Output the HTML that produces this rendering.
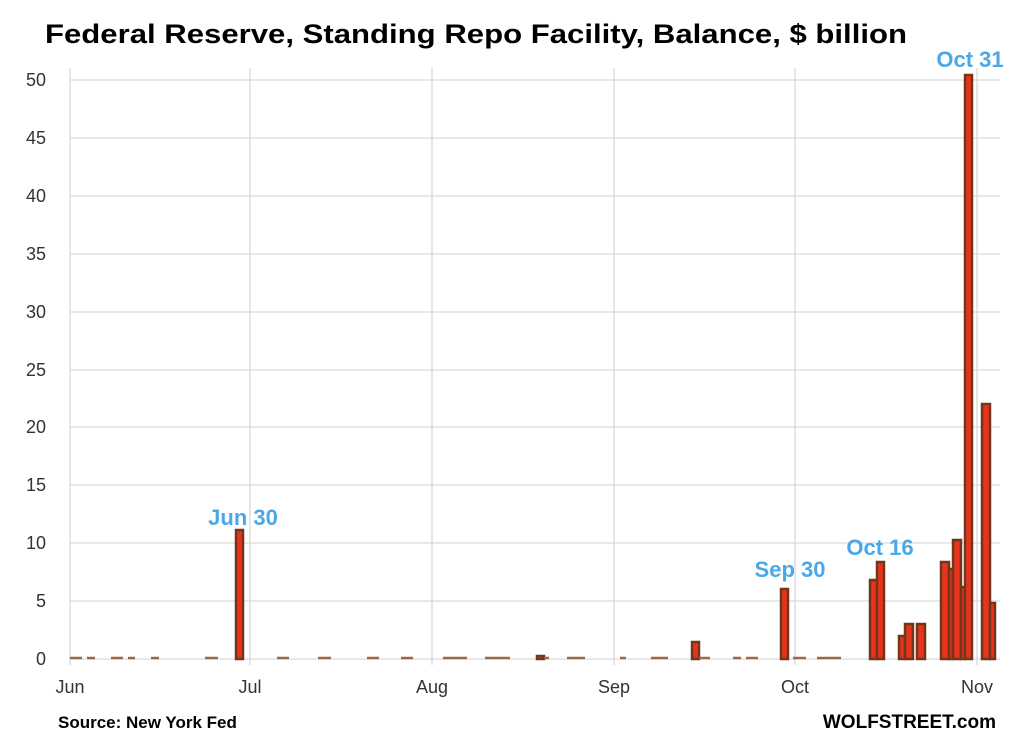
<!DOCTYPE html>
<html><head><style>body{margin:0;background:#fff}svg{display:block}</style></head><body>
<svg width="1024" height="749" xmlns="http://www.w3.org/2000/svg" font-family="Liberation Sans, sans-serif">
<rect width="1024" height="749" fill="#fff"/>
<text x="45" y="43" font-size="27" font-weight="bold" textLength="862" lengthAdjust="spacingAndGlyphs">Federal Reserve, Standing Repo Facility, Balance, $ billion</text>
<g stroke="#d9d9d9" stroke-width="1.3">
<line x1="70" x2="1000" y1="80" y2="80"/><line x1="70" x2="1000" y1="138" y2="138"/><line x1="70" x2="1000" y1="196" y2="196"/><line x1="70" x2="1000" y1="254" y2="254"/><line x1="70" x2="1000" y1="312" y2="312"/><line x1="70" x2="1000" y1="370" y2="370"/><line x1="70" x2="1000" y1="427" y2="427"/><line x1="70" x2="1000" y1="485" y2="485"/><line x1="70" x2="1000" y1="543" y2="543"/><line x1="70" x2="1000" y1="601" y2="601"/><line x1="70" x2="1000" y1="659" y2="659"/>
<line x1="70" x2="70" y1="68" y2="665"/><line x1="250" x2="250" y1="68" y2="665"/><line x1="432" x2="432" y1="68" y2="665"/><line x1="614" x2="614" y1="68" y2="665"/><line x1="795" x2="795" y1="68" y2="665"/><line x1="977" x2="977" y1="68" y2="665"/>
</g>
<g font-size="18" fill="#333" text-anchor="end">
<text x="46" y="86">50</text><text x="46" y="144">45</text><text x="46" y="202">40</text><text x="46" y="260">35</text><text x="46" y="318">30</text><text x="46" y="376">25</text><text x="46" y="433">20</text><text x="46" y="491">15</text><text x="46" y="549">10</text><text x="46" y="607">5</text><text x="46" y="665">0</text>
</g>
<g font-size="18" fill="#333" text-anchor="middle">
<text x="70" y="693">Jun</text><text x="250" y="693">Jul</text><text x="432" y="693">Aug</text><text x="614" y="693">Sep</text><text x="795" y="693">Oct</text><text x="977" y="693">Nov</text>
</g>
<g fill="#e8341c" stroke="#73361a" stroke-width="2.5">
<rect x="236" y="530" width="7" height="129"/>
<rect x="692" y="642" width="7" height="17"/>
<rect x="781" y="589" width="7" height="70"/>
<rect x="870" y="580" width="7" height="79"/>
<rect x="877" y="562" width="7" height="97"/>
<rect x="899" y="636" width="6" height="23"/>
<rect x="905" y="624" width="8" height="35"/>
<rect x="917" y="624" width="8" height="35"/>
<rect x="941" y="562" width="8" height="97"/>
<rect x="949" y="569" width="4" height="90"/>
<rect x="953" y="540" width="8" height="119"/>
<rect x="961" y="587" width="4" height="72"/>
<rect x="965" y="75" width="7" height="584"/>
<rect x="982" y="404" width="8" height="255"/>
<rect x="990" y="603" width="5" height="56"/>
<rect x="537" y="656" width="7" height="3"/>
</g>
<g stroke="#9a6a48" stroke-width="2.5">
<line x1="70" x2="82" y1="658" y2="658"/><line x1="87" x2="95" y1="658" y2="658"/><line x1="111" x2="123" y1="658" y2="658"/><line x1="128" x2="135" y1="658" y2="658"/><line x1="151" x2="159" y1="658" y2="658"/><line x1="205" x2="218" y1="658" y2="658"/><line x1="277" x2="289" y1="658" y2="658"/><line x1="318" x2="331" y1="658" y2="658"/><line x1="367" x2="379" y1="658" y2="658"/><line x1="401" x2="413" y1="658" y2="658"/><line x1="443" x2="467" y1="658" y2="658"/><line x1="485" x2="510" y1="658" y2="658"/><line x1="544" x2="549" y1="658" y2="658"/><line x1="567" x2="585" y1="658" y2="658"/><line x1="620" x2="626" y1="658" y2="658"/><line x1="651" x2="668" y1="658" y2="658"/><line x1="699" x2="710" y1="658" y2="658"/><line x1="733" x2="741" y1="658" y2="658"/><line x1="746" x2="758" y1="658" y2="658"/><line x1="793" x2="806" y1="658" y2="658"/><line x1="817" x2="841" y1="658" y2="658"/>
</g>
<g font-size="22" font-weight="bold" fill="#4aa8e8" text-anchor="middle">
<text x="243" y="525">Jun 30</text><text x="790" y="577">Sep 30</text><text x="880" y="555">Oct 16</text><text x="970" y="67">Oct 31</text>
</g>
<text x="58" y="728" font-size="17" font-weight="bold">Source: New York Fed</text>
<text x="996" y="728" font-size="19" font-weight="bold" text-anchor="end">WOLFSTREET.com</text>
</svg>
</body></html>
